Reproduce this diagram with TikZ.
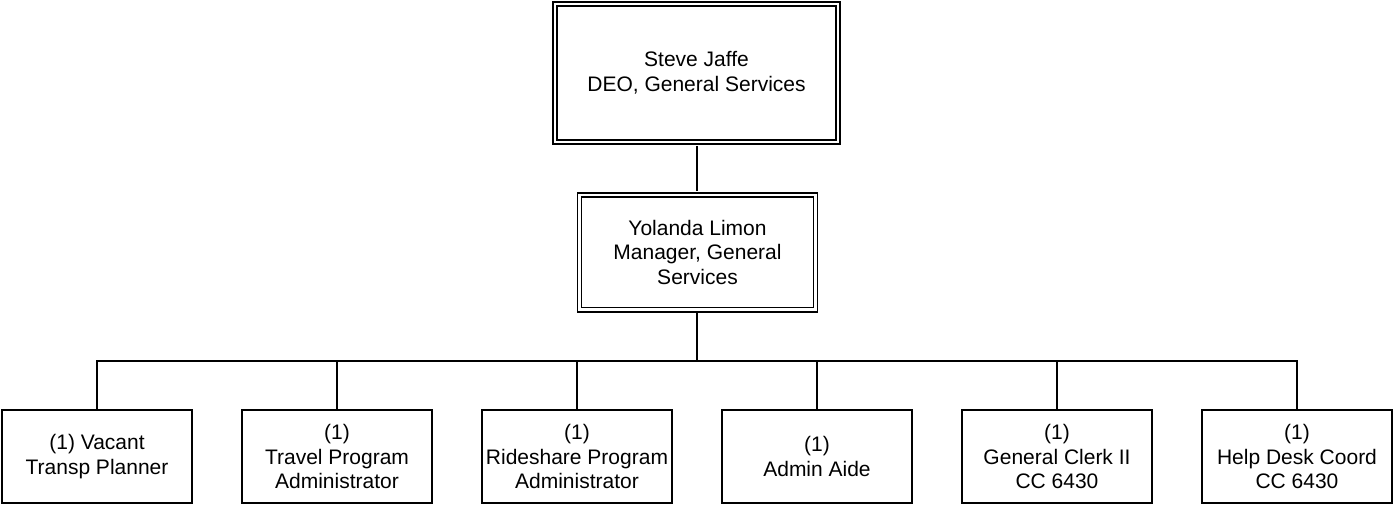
\documentclass[tikz,border=0pt]{standalone}
\usepackage{fontspec}
\setmainfont{Liberation Sans}
\usepackage{tikz}
\definecolor{line_black}{RGB}{0,0,0}

\begin{document}
\begin{tikzpicture}[x=0.75pt,y=0.75pt,line width=1.5pt]
    \tikzstyle{head}=[draw=line_black, double, double distance=1.8pt, line width=1.3pt, align=center, inner sep=0pt, font=\fontsize{15.75}{18.6}\selectfont]
    \tikzstyle{unit}=[draw=line_black, line width=1.5pt, minimum width=142.5pt, minimum height=69.75pt, align=center, inner sep=0pt, font=\fontsize{15.75}{18.6}\selectfont]
    \useasboundingbox (0,0) rectangle (1394,505);

    \node[head, minimum width=212.5pt, minimum height=103.8pt] (deo) at (696.5,432) {Steve Jaffe\\DEO, General Services};
    \node[head, minimum width=177pt, minimum height=85.8pt]    (mgr) at (697.5,252.5) {Yolanda Limon\\Manager, General\\Services};
    \coordinate (bus) at (697,144);

    \node[unit] (u1) at (97,48.5)   {(1) Vacant\\Transp Planner};
    \node[unit] (u2) at (337,48.5)  {(1)\\Travel Program\\Administrator};
    \node[unit] (u3) at (577,48.5)  {(1)\\Rideshare Program\\Administrator};
    \node[unit] (u4) at (817,48.5)  {(1)\\Admin Aide};
    \node[unit] (u5) at (1057,48.5) {(1)\\General Clerk II\\CC 6430};
    \node[unit] (u6) at (1297,48.5) {(1)\\Help Desk Coord\\CC 6430};

    \draw[shorten <=2.2pt, shorten >=2.2pt] (deo.south -| bus) -- (mgr.north -| bus);
    \draw[shorten <=2.2pt] (mgr.south -| bus) -- (bus);
    \foreach \u in {u1,u2,u3,u4,u5,u6}
        \draw (bus) -| (\u.north);
\end{tikzpicture}
\end{document}
